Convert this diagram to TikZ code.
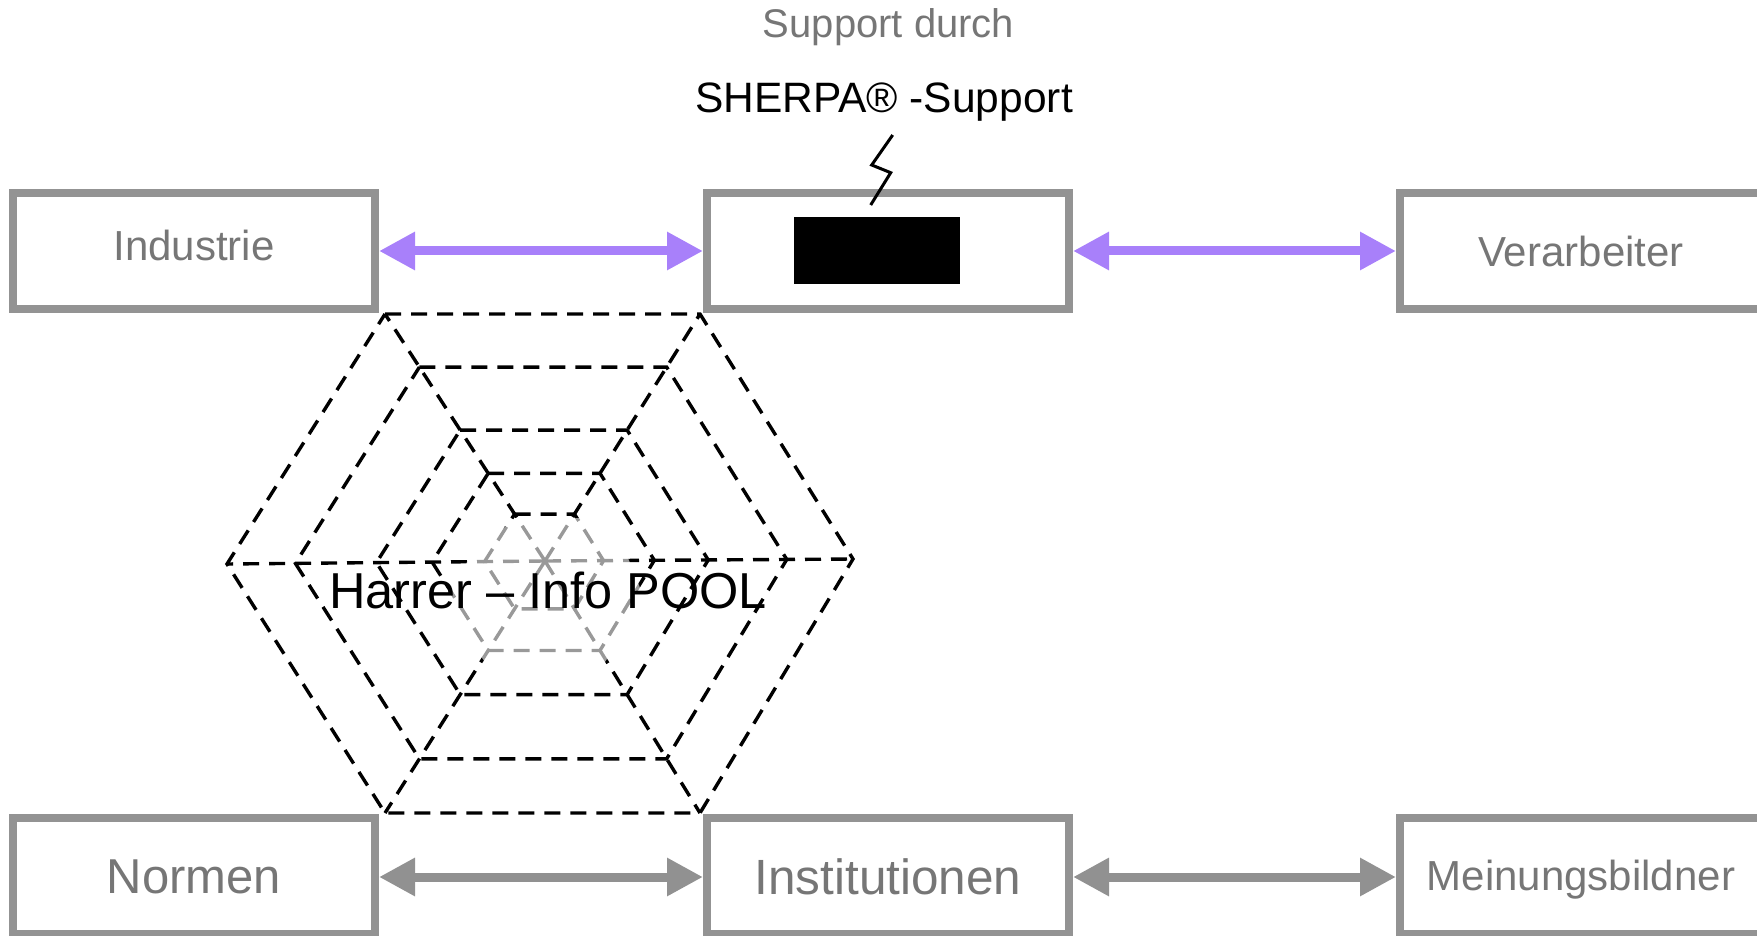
\documentclass[tikz,border=0pt]{standalone}
\usepackage{fontspec}
\setmainfont{Liberation Sans}
\usetikzlibrary{arrows.meta,calc}
\definecolor{boxgray}{HTML}{939393}
\definecolor{txtgray}{HTML}{767676}
\definecolor{arrpurple}{HTML}{A880FA}
\definecolor{arrgray}{HTML}{919191}
\newcommand{\fsz}[1]{\fontsize{#1}{#1}\selectfont}
\begin{document}
\begin{tikzpicture}[x=1pt,y=-1pt,
  card/.style={draw=boxgray, line width=8pt, minimum width=362pt, minimum height=116pt, inner sep=0pt, text=txtgray, align=center},
  biarrow/.style={line width=9pt, {Triangle[length=36pt,width=36pt]}-{Triangle[length=36pt,width=36pt]}},
  webline/.style={line width=3.4pt, dash pattern=on 16pt off 10pt, black},
  lbl/.style={anchor=base, inner sep=0pt},
]
\useasboundingbox (0,0) rectangle (1757,936);
\clip (0,0) rectangle (1757,936);

% spider web
\coordinate (C) at (545,561);
\coordinate (V1) at (385,314);
\coordinate (V2) at (700,314);
\coordinate (V3) at (853,559);
\coordinate (V4) at (700,813);
\coordinate (V5) at (385,813);
\coordinate (V6) at (227,564);
\foreach \t in {1,0.785,0.53,0.355,0.19}{
  \draw[webline] ($(C)!\t!(V1)$) -- ($(C)!\t!(V2)$) -- ($(C)!\t!(V3)$) -- ($(C)!\t!(V4)$) -- ($(C)!\t!(V5)$) -- ($(C)!\t!(V6)$) -- cycle;
}
\foreach \i in {1,...,6}{
  \draw[webline] (C) -- (V\i);
}
% faded centre
\fill[white, opacity=0.6] (515,518) -- (585,518) -- (628,558) -- (645,600) -- (605,662) -- (485,662) -- (440,600) -- (470,558) -- cycle;

% boxes
\node[card, font=\fsz{42}, text height=30pt, text depth=10.6pt] (ind) at (194,251) {Industrie};
\node[card] (mid) at (888,251) {};
\node[card, font=\fsz{42}, text height=36pt, text depth=4.6pt] (ver) at (1581,251) {Verarbeiter};
\node[card, font=\fsz{49}, text height=35pt, text depth=0.4pt] (nor) at (194,876) {Normen};
\node[card, font=\fsz{49.5}, text height=36pt, text depth=0pt] (ins) at (888,876) {Institutionen};
\node[card, font=\fsz{42}, text height=30pt, text depth=2pt] (mei) at (1581,876) {Meinungsbildner};

\node[fill=black, minimum width=166pt, minimum height=67pt, inner sep=0pt, anchor=north west] (blk) at (794,217) {};

% arrows
\draw[biarrow, arrpurple] (ind.east) -- (mid.west);
\draw[biarrow, arrpurple] (mid.east) -- (ver.west);
\draw[biarrow, arrgray] ([yshift=-1pt]nor.east) -- ([yshift=-1pt]ins.west);
\draw[biarrow, arrgray] ([yshift=-1pt]ins.east) -- ([yshift=-1pt]mei.west);

% texts
\node[lbl, text=txtgray, font=\fsz{40}] (sup) at (888.5,38) {Support durch};
\node[lbl, font=\fsz{42.5}] (sherpa) at (884,113) {SHERPA® -Support};
\node[lbl, font=\fsz{50.5}] (pool) at (548,608) {Harrer – Info POOL};

% zigzag
\coordinate (z1) at (892.7,135);
\coordinate (z2) at (871.7,165);
\coordinate (z3) at (890.7,172.7);
\coordinate (z4) at (870.7,205);
\draw[line width=3pt] (z1) -- (z2) -- (z3) -- (z4);
\end{tikzpicture}
\end{document}
